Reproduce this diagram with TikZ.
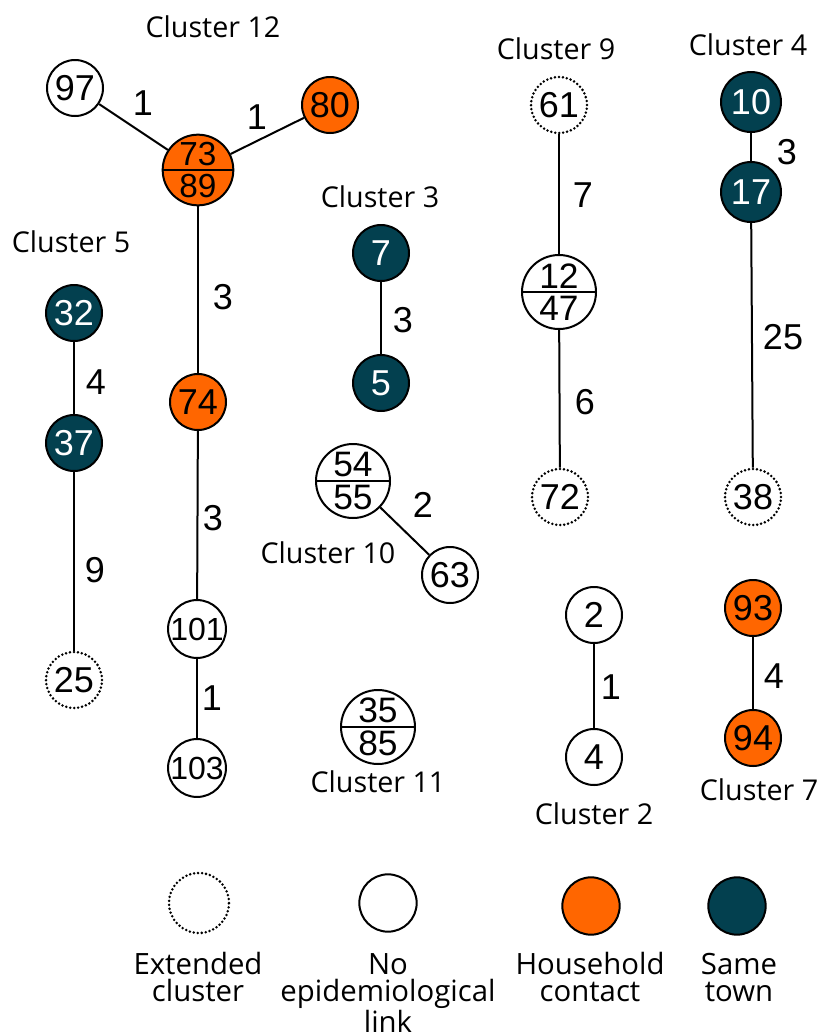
\documentclass[tikz,border=0pt]{standalone}
\usepackage{fontspec}
\setmainfont{Liberation Sans}
\newfontfamily\labfont{Open Sans}
\definecolor{hhorange}{HTML}{FF6600}
\definecolor{towndark}{HTML}{03404F}
\begin{document}
\begin{tikzpicture}[x=0.75pt,y=-0.75pt,
  case/.style={circle,draw=black,line width=1.5pt,inner sep=0pt,minimum size=42pt,fill=white,
    font=\fontsize{27}{27}\selectfont},
  smallcase/.style={case,font=\fontsize{24}{24}\selectfont},
  twocase/.style={case,minimum size=55.5pt,align=center,font=\fontsize{26.5}{24.5}\selectfont},
  hh/.style={fill=hhorange},
  town/.style={fill=towndark,text=white},
  ext/.style={dash pattern=on 0pt off 3pt,line cap=round,line width=2.1pt},
  link/.style={line width=1.5pt},
  elabel/.style={font=\fontsize{27}{27}\selectfont,inner sep=0pt},
  clabel/.style={font=\labfont\fontsize{21.5}{21.5}\selectfont,inner sep=0pt},
  leglabel/.style={font=\labfont\fontsize{22}{20.2}\selectfont,inner sep=0pt,align=center,anchor=north}
]
\useasboundingbox (0,0) rectangle (822,1036);

% Cluster 12
\node[clabel] (cl12) at (213,27) {Cluster 12};
\node[case] (n97) at (75,88) {97};
\node[case,hh] (n80) at (330,105) {80};
\node[twocase,hh,minimum size=53pt,font=\fontsize{25}{23.5}\selectfont] (n73) at (198,170) {73\\89};
\draw[line width=1.5pt] (n73.west) -- (n73.east);
\node[case,hh] (n74) at (198,402) {74};
\node[smallcase] (n101) at (197,629) {101};
\node[smallcase] (n103) at (197,768) {103};
\draw[link] (n97) -- (n73);
\draw[link] (n80) -- (n73);
\draw[link] (n73) -- (n74);
\draw[link] (n74) -- (n101);
\draw[link] (n101) -- (n103);
\node[elabel] (e1) at (143,103) {1};
\node[elabel] (e2) at (257,117) {1};
\node[elabel] (e3) at (223,297) {3};
\node[elabel] (e4) at (213,518) {3};
\node[elabel] (e5) at (212,698) {1};

% Cluster 5
\node[clabel] (cl5) at (71,242) {Cluster 5};
\node[case,town] (n32) at (74,313) {32};
\node[case,town] (n37) at (74,443) {37};
\node[case,ext,draw=black] (n25) at (74,680) {25};
\draw[link] (n32) -- (n37);
\draw[link] (n37) -- (n25);
\node[elabel] (e6) at (96,382) {4};
\node[elabel] (e7) at (95,570) {9};

% Cluster 3
\node[clabel] (cl3) at (380,197) {Cluster 3};
\node[case,town] (n7) at (381,253) {7};
\node[case,town] (n5) at (381,383) {5};
\draw[link] (n7) -- (n5);
\node[elabel] (e8) at (403,320) {3};

% Cluster 10
\node[twocase] (n54) at (353,481) {54\\55};
\draw[line width=1.5pt] (n54.west) -- (n54.east);
\node[case] (n63) at (450,575) {63};
\draw[link] (n54) -- (n63);
\node[elabel] (e9) at (423,505) {2};
\node[clabel] (cl10) at (328,553) {Cluster 10};

% Cluster 11
\node[twocase] (n35) at (378,727) {35\\85};
\draw[line width=1.5pt] (n35.west) -- (n35.east);
\node[clabel] (cl11) at (378,782) {Cluster 11};

% Cluster 9
\node[clabel] (cl9) at (556,49) {Cluster 9};
\node[case,ext,draw=black] (n61) at (559,105) {61};
\node[twocase] (n12) at (559,292) {12\\47};
\draw[line width=1.5pt] (n12.west) -- (n12.east);
\node[case,ext,draw=black] (n72) at (560,497) {72};
\draw[link] (n61) -- (n12);
\draw[link] (n12) -- (n72);
\node[elabel] (e10) at (583,195) {7};
\node[elabel] (e11) at (585,402) {6};

% Cluster 4
\node[clabel] (cl4) at (748,45) {Cluster 4};
\node[case,town,minimum size=45pt] (n10) at (751,102) {10};
\node[case,town,minimum size=45pt] (n17) at (751,192) {17};
\node[case,ext,draw=black] (n38) at (753,497) {38};
\draw[link] (n10) -- (n17);
\draw[link] (n17) -- (n38);
\node[elabel] (e12) at (787,152) {3};
\node[elabel] (e13) at (783,337) {25};

% Cluster 2
\node[case] (n2) at (594,615) {2};
\node[case] (n4) at (594,757) {4};
\draw[link] (n2) -- (n4);
\node[elabel] (e14) at (611,687) {1};
\node[clabel] (cl2) at (594,814) {Cluster 2};

% Cluster 7
\node[case,hh] (n93) at (753,608) {93};
\node[case,hh] (n94) at (753,738) {94};
\draw[link] (n93) -- (n94);
\node[elabel] (e15) at (774,676) {4};
\node[clabel] (cl7) at (759,790) {Cluster 7};

% Legend
\node[case,ext,draw=black,minimum size=45pt] (lg1) at (199,903) {};
\node[case,minimum size=43pt] (lg2) at (388,903) {};
\node[case,hh,minimum size=43pt] (lg3) at (591,906) {};
\node[case,town,minimum size=43pt] (lg4) at (737,906) {};
\node[leglabel] (lt1) at (198,952) {\vphantom{Ed}Extended\\cluster};
\node[leglabel] (lt2) at (388,952) {\vphantom{Ed}No\\epidemiological\\link};
\node[leglabel] (lt3) at (590,952) {\vphantom{Ed}Household\\contact};
\node[leglabel] (lt4) at (739,952) {\vphantom{Ed}Same\\town};
\end{tikzpicture}
\end{document}
